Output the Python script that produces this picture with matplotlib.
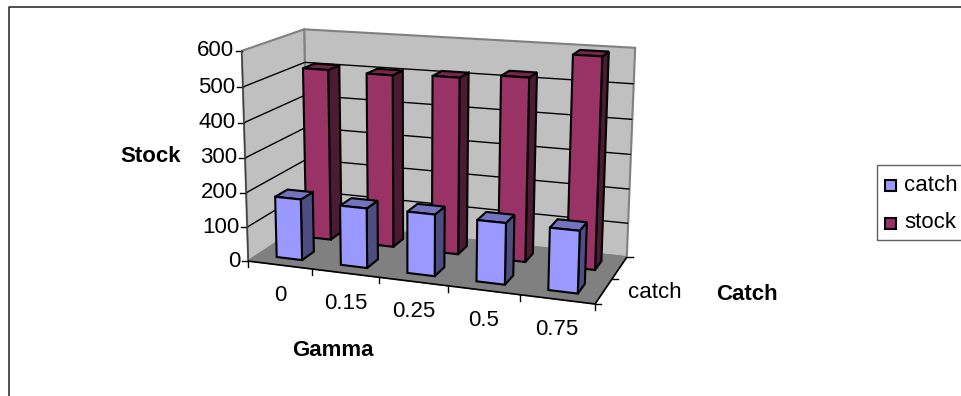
import numpy as np
import matplotlib
matplotlib.use('Agg')
import matplotlib.pyplot as plt
from matplotlib.patches import Polygon, Rectangle

plt.rcParams['font.family'] = ['Liberation Sans', 'DejaVu Sans']

# data
categories = ['0', '0.15', '0.25', '0.5', '0.75']
series_names = ['catch', 'stock']
catch_values = [178, 172, 175, 172, 172]
stock_values = [510, 507, 513, 526, 596]
z_ticks = [0, 100, 200, 300, 400, 500, 600]
z_max = 600


# the box of the 3D chart: (x, depth, z) fractions -> pixel on the picture
box_corners = [
    ((0, 0, 0), (249, 260)),
    ((1, 0, 0), (595, 305)),
    ((1, 1, 0), (627, 256)),
    ((0, 1, 0), (307, 223)),
    ((0, 0, 1), (241, 51)),
    ((0, 1, 1), (305, 29)),
    ((1, 1, 1), (635, 48)),
]


def fit_camera(corners):
    rows = []
    for (x, y, z), (u, v) in corners:
        rows.append([x, y, z, 1, 0, 0, 0, 0, -u * x, -u * y, -u * z, -u])
        rows.append([0, 0, 0, 0, x, y, z, 1, -v * x, -v * y, -v * z, -v])
    _, _, vt = np.linalg.svd(np.array(rows, dtype=float))
    return vt[-1].reshape(3, 4)


camera = fit_camera(box_corners)


def project(x, y, z):
    p = camera @ np.array([x, y, z, 1.0])
    return p[0] / p[2], p[1] / p[2]


def face(ax, pts, color, edge='black', lw=1.5, zorder=2):
    ax.add_patch(Polygon([project(*p) for p in pts], closed=True, facecolor=color,
                         edgecolor=edge, linewidth=lw, joinstyle='miter', zorder=zorder))


def line3d(ax, a, b, color='black', lw=1.0, zorder=2):
    pa, pb = project(*a), project(*b)
    ax.plot([pa[0], pb[0]], [pa[1], pb[1]], color=color, lw=lw, zorder=zorder,
            solid_capstyle='butt')


def draw_bar(ax, i, row, value, colors, zorder):
    x0 = (i + 0.3) / len(categories)
    x1 = (i + 0.7) / len(categories)
    y0 = 0.15 + 0.5 * row
    y1 = 0.35 + 0.5 * row
    z = value / z_max
    face(ax, [(x1, y0, 0), (x1, y1, 0), (x1, y1, z), (x1, y0, z)], colors[2], zorder=zorder)
    face(ax, [(x0, y0, z), (x1, y0, z), (x1, y1, z), (x0, y1, z)], colors[1], zorder=zorder)
    face(ax, [(x0, y0, 0), (x1, y0, 0), (x1, y0, z), (x0, y0, z)], colors[0], zorder=zorder)


fig = plt.figure(figsize=(9.61, 3.96), dpi=100)
ax = fig.add_axes([0, 0, 1, 1])
ax.set_xlim(0, 961)
ax.set_ylim(396, 0)
ax.axis('off')

# chart frame
ax.plot([8.5, 8.5, 961], [396, 6.5, 6.5], color='#202020', lw=1.1, zorder=1)

# walls and floor
wall = '#C0C0C0'
face(ax, [(0, 1, 0), (1, 1, 0), (1, 1, 1), (0, 1, 1)], wall, edge='#808080', lw=1.5)
face(ax, [(0, 0, 0), (0, 1, 0), (0, 1, 1), (0, 0, 1)], wall, edge='#808080', lw=1.5)
face(ax, [(0, 0, 0), (1, 0, 0), (1, 1, 0), (0, 1, 0)], '#808080', edge='#808080', lw=1.0)

# gridlines and z ticks
for t in z_ticks:
    z = t / z_max
    if t > 0 and t < z_max:
        line3d(ax, (0, 0, z), (0, 1, z), lw=1.0)
        line3d(ax, (0, 1, z), (1, 1, z), lw=1.0)
    u, v = project(0, 0, z)
    ax.plot([u - 6, u], [v, v], color='black', lw=1.0, zorder=3)
    ax.text(u - 8, v, str(t), ha='right', va='center', fontsize=16, zorder=5)

# axis lines
line3d(ax, (0, 0, 0), (0, 0, 1), color='#404040', lw=1.0, zorder=3)
line3d(ax, (0, 0, 0), (1, 0, 0), lw=1.2, zorder=3)
line3d(ax, (1, 0, 0), (1, 1, 0), lw=1.2, zorder=3)

# x ticks and labels
n = len(categories)
for i in range(n + 1):
    u, v = project(i / n, 0, 0)
    ax.plot([u, u], [v, v + 6], color='black', lw=1.0, zorder=3)
for i, c in enumerate(categories):
    u, v = project((i + 0.5) / n, 0, 0)
    ax.text(u, v + 30, c, ha='center', va='center', fontsize=16, zorder=5)

# depth ticks and the one label
for d in [0, 0.5, 1]:
    u, v = project(1, d, 0)
    ax.plot([u, u + 6], [v, v], color='black', lw=1.0, zorder=3)
ax.text(628, 292, series_names[0], ha='left', va='center', fontsize=16, zorder=5)

# bars, back row first
catch_colors = ['#9999FF', '#7373BF', '#4D4D80']
stock_colors = ['#993366', '#732649', '#4D1A33']
for i in range(n):
    draw_bar(ax, i, 1, stock_values[i], stock_colors, 4)
for i in range(n):
    draw_bar(ax, i, 0, catch_values[i], catch_colors, 4)

# axis titles
ax.text(151, 157, 'Stock', ha='center', va='center', fontsize=16, fontweight='bold')
ax.text(333, 351, 'Gamma', ha='center', va='center', fontsize=16, fontweight='bold')
ax.text(747, 295, 'Catch', ha='center', va='center', fontsize=16, fontweight='bold')

# legend
ax.add_patch(Rectangle((877, 165), 90, 75, facecolor='white', edgecolor='#606060', lw=1.0, zorder=5))
for name, col, yy, base in zip(series_names, [catch_colors[0], stock_colors[0]], [185, 223], [191, 228]):
    ax.add_patch(Rectangle((885, yy - 5.5), 11, 11, facecolor=col, edgecolor='black', lw=1.5, zorder=6))
    ax.text(904, base, name, ha='left', va='baseline', fontsize=16, zorder=6)

fig.savefig('out.png', dpi=100)
